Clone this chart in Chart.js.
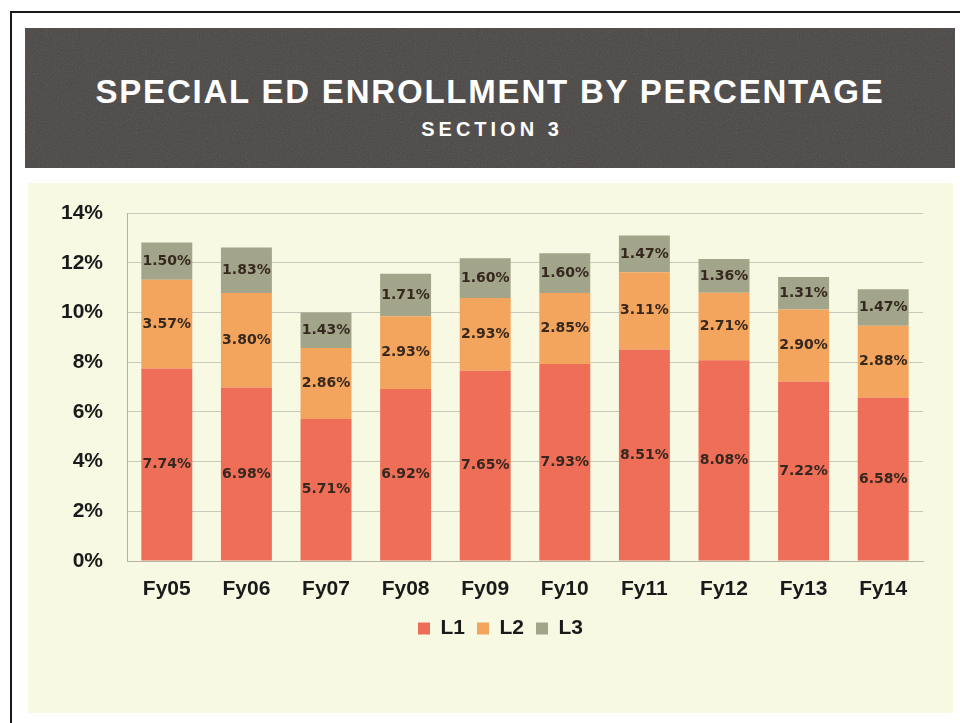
<!DOCTYPE html>
<html>
<head>
<meta charset="utf-8">
<title>Special Ed Enrollment by Percentage</title>
<script src="https://cdn.jsdelivr.net/npm/chart.js@4/dist/chart.umd.min.js"></script>
<style>
  html, body { margin: 0; padding: 0; background: #ffffff; }
  body { width: 960px; height: 723px; position: relative; overflow: hidden; }
  .frame-top { position: absolute; left: 10px; top: 11px; width: 950px; height: 2px; background: #1a1a1a; }
  .frame-left { position: absolute; left: 10px; top: 11px; width: 2px; height: 712px; background: #1a1a1a; }
  .header {
    position: absolute; left: 25px; top: 28px; width: 930px; height: 140px;
    background-color: #474442;
    background-image: url("data:image/svg+xml;utf8,<svg xmlns='http://www.w3.org/2000/svg' width='300' height='140'><filter id='n'><feTurbulence type='fractalNoise' baseFrequency='0.9' numOctaves='2' stitchTiles='stitch'/><feColorMatrix type='saturate' values='0'/></filter><rect width='300' height='140' filter='url(%23n)' opacity='0.18'/></svg>");
    color: #ffffff; text-align: center;
    font-family: "Liberation Sans", Arial, sans-serif; font-weight: 700;
  }
  .header .title { position: absolute; left: 0; right: 0; top: 44px; font-size: 33px; letter-spacing: 1.8px; line-height: 40px; }
  .header .subtitle { position: absolute; left: 0; right: 0; top: 89px; font-size: 20px; letter-spacing: 4px; line-height: 24px; padding-left: 4px; }
  .panel { position: absolute; left: 28px; top: 183px; width: 925px; height: 530px; background: #f7f9e2; }
  .panel canvas { position: absolute; left: 0; top: 0; }
</style>
</head>
<body>
<div class="frame-top"></div>
<div class="frame-left"></div>
<div class="header">
  <div class="title">SPECIAL ED ENROLLMENT BY PERCENTAGE</div>
  <div class="subtitle">SECTION 3</div>
</div>
<div class="panel">
  <canvas id="chart" width="925" height="530"></canvas>
</div>
<script>
// Fiscal years and enrollment share (%) for each level
const years = ["Fy05", "Fy06", "Fy07", "Fy08", "Fy09", "Fy10", "Fy11", "Fy12", "Fy13", "Fy14"];
const level1 = [7.74, 6.98, 5.71, 6.92, 7.65, 7.93, 8.51, 8.08, 7.22, 6.58];
const level2 = [3.57, 3.80, 2.86, 2.93, 2.93, 2.85, 3.11, 2.71, 2.90, 2.88];
const level3 = [1.50, 1.83, 1.43, 1.71, 1.60, 1.60, 1.47, 1.36, 1.31, 1.47];
const yTicks = [0, 2, 4, 6, 8, 10, 12, 14];

// Writes each segment's value in the middle of its bar piece
const segmentLabels = {
  id: "segmentLabels",
  afterDatasetsDraw(chart) {
    const ctx = chart.ctx;
    ctx.save();
    ctx.font = "bold 14px 'DejaVu Sans', sans-serif";
    ctx.fillStyle = "#36281f";
    ctx.textAlign = "center";
    ctx.textBaseline = "middle";
    chart.data.datasets.forEach((ds, i) => {
      const meta = chart.getDatasetMeta(i);
      meta.data.forEach((bar, j) => {
        const v = ds.data[j];
        ctx.fillText(v.toFixed(2) + "%", bar.x, (bar.y + bar.base) / 2);
      });
    });
    ctx.restore();
  }
};

// Nudges the legend row to the right of the panel centre
const legendShift = {
  id: "legendShift",
  afterLayout(chart) {
    if (chart.legend) { chart.legend.left += 25; chart.legend.right += 25; }
  }
};

const axisFont = { family: "'Liberation Sans', Arial, sans-serif", size: 21, weight: "bold" };

new Chart(document.getElementById("chart"), {
  type: "bar",
  data: {
    labels: years,
    datasets: [
      { label: "L1", data: level1, backgroundColor: "#ee6e58" },
      { label: "L2", data: level2, backgroundColor: "#f3a45d" },
      { label: "L3", data: level3, backgroundColor: "#a2a58a" }
    ]
  },
  options: {
    responsive: false,
    animation: false,
    layout: { padding: { left: 0, right: 30, top: 30, bottom: 64 } },
    datasets: { bar: { categoryPercentage: 1, barPercentage: 0.64 } },
    plugins: {
      tooltip: { enabled: false },
      legend: {
        position: "bottom",
        labels: {
          font: axisFont, color: "#1a1a1a",
          boxWidth: 12, boxHeight: 12, padding: 12,
          generateLabels(chart) {
            return chart.data.datasets.map((ds, i) => ({
              text: ds.label, fillStyle: ds.backgroundColor, strokeStyle: ds.backgroundColor,
              lineWidth: 0, hidden: false, datasetIndex: i, fontColor: "#1a1a1a"
            }));
          }
        }
      }
    },
    scales: {
      x: {
        stacked: true,
        grid: { display: false, drawTicks: false },
        border: { display: true, color: "#b4b4a8" },
        ticks: { font: axisFont, color: "#1a1a1a", padding: 16 },
        afterFit(scale) { scale.height = 45; }
      },
      y: {
        stacked: true,
        min: 0, max: 14,
        afterBuildTicks(scale) { scale.ticks = yTicks.map(v => ({ value: v })); },
        grid: { color: "#c8c8bb", drawTicks: true, tickLength: 21, tickColor: "rgba(0,0,0,0)" },
        border: { display: true, color: "#b4b4a8" },
        ticks: { font: axisFont, color: "#1a1a1a", padding: 3, callback: v => v + "%" },
        afterFit(scale) { scale.width = 99; }
      }
    }
  },
  plugins: [segmentLabels, legendShift]
});
</script>
</body>
</html>
